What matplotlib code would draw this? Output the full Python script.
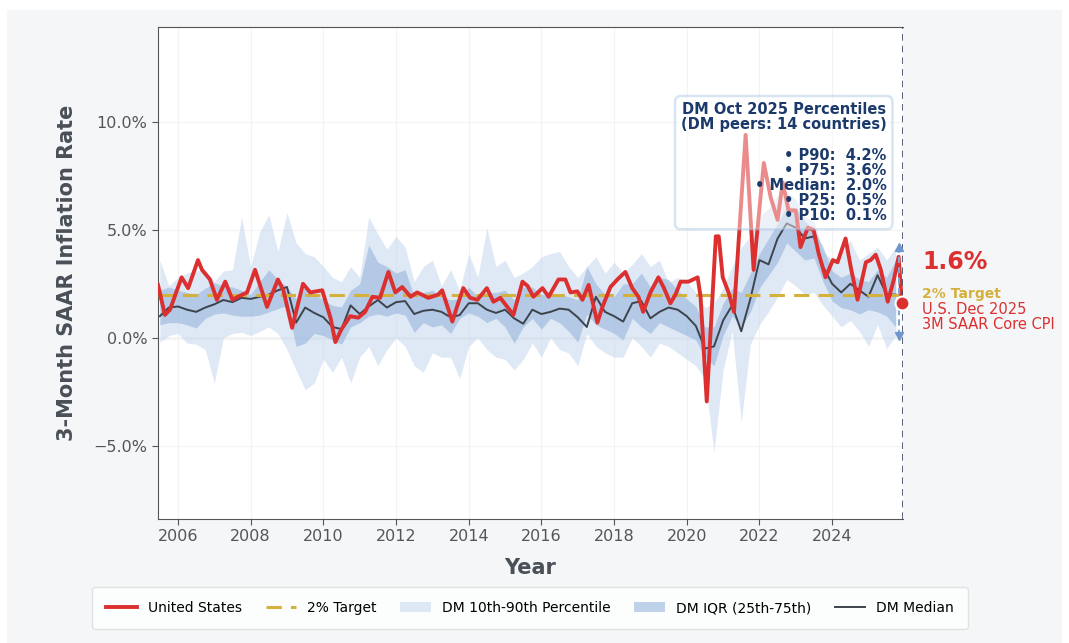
import numpy as np
import matplotlib
matplotlib.use("Agg")
import matplotlib.pyplot as plt
from matplotlib.patches import Rectangle
from matplotlib.ticker import PercentFormatter, FixedLocator

# ---- data ----
us_dates = [2005.45, 2005.64, 2005.78, 2006.10, 2006.28, 2006.55, 2006.66, 2006.88, 2007.07, 2007.30,
            2007.50, 2007.65, 2007.90, 2008.12, 2008.45, 2008.75, 2008.90, 2009.14, 2009.44, 2009.64,
            2009.97, 2010.20, 2010.33, 2010.50, 2010.74, 2010.96, 2011.15, 2011.35, 2011.56, 2011.79,
            2011.98, 2012.17, 2012.40, 2012.58, 2012.89, 2013.16, 2013.27, 2013.55, 2013.69, 2013.85,
            2014.04, 2014.24, 2014.50, 2014.68, 2014.87, 2015.23, 2015.48, 2015.62, 2015.78, 2016.03,
            2016.20, 2016.47, 2016.66, 2016.80, 2016.99, 2017.13, 2017.30, 2017.54, 2017.68, 2017.90,
            2018.09, 2018.31, 2018.50, 2018.67, 2018.80, 2019.00, 2019.22, 2019.36, 2019.55, 2019.69,
            2019.83, 2020.05, 2020.30, 2020.38, 2020.55, 2020.80, 2020.88, 2020.99, 2021.15, 2021.30,
            2021.62, 2021.84, 2022.12, 2022.31, 2022.50, 2022.64, 2022.80, 2023.00, 2023.13, 2023.33,
            2023.49, 2023.63, 2023.82, 2024.02, 2024.15, 2024.37, 2024.51, 2024.70, 2024.93, 2025.06,
            2025.20, 2025.34, 2025.53, 2025.70, 2025.83, 2025.92]
us_values = [2.45, 1.06, 1.3, 2.8, 2.3, 3.6, 3.15, 2.7, 1.76, 2.6,
             1.76, 1.9, 2.1, 3.15, 1.43, 2.7, 2.2, 0.46, 2.5, 2.1,
             2.2, 0.9, -0.2, 0.4, 1.0, 0.93, 1.2, 1.9, 1.85, 3.05,
             2.1, 2.35, 1.9, 2.1, 1.85, 2.0, 2.2, 0.75, 1.5, 2.3,
             1.85, 1.76, 2.3, 1.67, 1.85, 1.06, 2.6, 2.4, 1.9, 2.3,
             1.9, 2.7, 2.7, 2.1, 2.15, 1.76, 2.45, 0.7, 1.43, 2.35,
             2.7, 3.05, 2.3, 1.9, 1.2, 2.1, 2.8, 2.35, 1.6, 2.0,
             2.6, 2.6, 2.8, 1.9, -2.95, 4.7, 4.7, 2.8, 2.1, 1.2,
             9.4, 3.15, 8.1, 6.5, 5.46, 7.2, 5.9, 5.9, 4.2, 5.1,
             5.0, 3.9, 2.8, 3.6, 3.5, 4.6, 3.3, 1.76, 3.5, 3.6,
             3.85, 3.15, 1.67, 2.7, 3.75, 1.6]

# DM peer distribution, quarterly from mid-2005 to Oct 2025
dm_dates = np.arange(2005.5, 2025.76, 0.25)
dm_median = [1.0, 1.4,
             1.45, 1.3, 1.2, 1.4,   1.55, 1.75, 1.65, 1.85,   1.8, 1.9, 2.0, 2.2,   2.35, 0.7, 1.4, 1.15,
             0.95, 0.5, 0.4, 1.5,   1.1, 1.45, 1.75, 1.4,    1.65, 1.7, 1.1, 1.25,  1.3, 1.2, 0.95, 1.05,
             1.6, 1.6, 1.3, 1.15,   1.3, 0.9, 0.65, 1.3,     1.1, 1.2, 1.35, 1.3,   0.95, 0.5, 1.9, 1.2,
             1.0, 0.75, 1.6, 1.7,   0.9, 1.2, 1.4, 1.3,      1.0, 0.55, -0.5, -0.4, 0.8, 1.5, 0.3, 1.8,
             3.6, 3.4, 4.6, 5.3,    5.1, 4.6, 4.7, 3.3,      2.5, 2.1, 2.5, 2.2,    1.9, 2.9, 2.0, 2.0]
dm_p25 = [0.6, 0.7,
          0.7, 0.6, 0.45, 0.9,    1.1, 1.15, 1.05, 1.0,    1.0, 1.05, 1.2, 1.35,   1.5, -0.4, -0.25, 0.2,
          0.1, -0.1, -0.3, 0.5,   0.7, 1.0, 1.1, 1.0,      1.15, 1.05, 0.25, 0.7,  0.5, 0.6, 0.2, 0.9,
          1.15, 1.0, 0.7, 0.9,    0.5, -0.25, 0.5, 0.9,    0.4, 0.9, 0.7, 0.3,     -0.2, 1.1, 0.6, 0.4,
          0.2, -0.1, 0.9, 0.5,    0.2, 0.7, 0.5, 0.3,      0.1, -0.1, -0.9, -1.3,  0.1, 1.0, 0.5, 1.2,
          2.3, 2.9, 3.5, 4.4,     4.0, 3.6, 3.7, 2.6,      1.7, 1.4, 1.3, 1.1,     1.3, 1.2, 1.0, 0.5]
dm_p75 = [2.2, 2.35,
          2.2, 2.1, 2.0, 2.3,     2.55, 2.4, 2.35, 2.2,    2.0, 2.6, 3.15, 2.7,    2.35, 1.8, 2.35, 2.0,
          1.76, 1.5, 1.43, 2.2,   2.5, 4.3, 3.5, 3.3,      3.0, 3.15, 1.9, 2.1,    2.2, 1.9, 1.76, 1.8,
          2.35, 1.9, 2.1, 2.1,    2.2, 1.76, 2.35, 2.35,   2.0, 2.0, 2.0, 1.9,     1.76, 3.3, 2.5, 2.0,
          1.9, 2.5, 2.5, 3.0,     2.35, 2.8, 2.7, 2.2,     1.8, 1.45, 0.5, 0.5,    1.6, 2.3, 2.1, 3.0,
          3.9, 4.6, 5.3, 6.1,     6.0, 5.4, 5.0, 4.2,      3.1, 2.8, 3.0, 2.7,     2.6, 3.15, 2.8, 3.6]
dm_p10 = [-0.2, 0.1,
          0.2, -0.25, -0.3, -0.55,  -2.1, 0.0, 0.2, 0.25,   0.1, 0.3, 0.5, 0.2,     -0.55, -1.5, -2.4, -2.1,
          -1.0, -1.6, -0.9, -2.1,   -0.9, -0.4, -1.3, -0.55, 0.0, -0.4, -1.3, -1.6,  -0.7, -0.9, -0.9, -1.9,
          -0.4, 0.0, -0.55, -0.9,   -1.0, -1.5, -1.0, -0.25, -0.9, 0.0, -0.55, -0.7, -1.3, 0.2, -0.4, -0.7,
          -0.9, -0.9, 0.0, -0.4,    -0.9, -0.25, -0.4, -0.7, -1.0, -1.3, -1.9, -5.3, -1.5, 0.3, -3.9, -0.3,
          0.6, 1.2, 1.9, 2.7,       2.4, 2.0, 2.1, 1.5,      1.0, 0.5, 0.8, 0.3,     -0.4, 0.6, -0.5, 0.1]
dm_p90 = [3.6, 2.4,
          2.8, 3.0, 3.1, 3.15,    2.6, 3.1, 3.15, 5.6,     3.3, 4.9, 5.7, 4.0,     5.8, 4.4, 3.9, 3.75,
          3.3, 2.8, 2.6, 3.3,     2.8, 5.6, 4.8, 4.1,      4.7, 4.2, 2.6, 3.3,     3.6, 2.4, 3.15, 2.2,
          3.9, 2.8, 5.1, 3.3,     3.6, 2.8, 3.0, 3.3,      3.75, 3.9, 4.0, 3.3,    2.8, 3.3, 3.75, 3.0,
          3.5, 3.0, 3.4, 3.9,     3.3, 3.6, 2.55, 2.8,     2.6, 2.1, 1.4, 1.6,     2.3, 3.3, 4.2, 4.7,
          5.6, 6.0, 6.6, 6.8,     6.4, 5.6, 5.4, 4.0,      3.6, 3.9, 4.5, 3.6,     3.9, 4.2, 3.6, 4.2]

target = 2.0
latest_us = 1.6
pct_labels = ["P90", "P75", "Median", "P25", "P10"]
pct_values = [4.2, 3.6, 2.0, 0.5, 0.1]
year_ticks = list(range(2006, 2025, 2))

# ---- styling ----
RED = "#dc2f2f"
GOLD = "#d4b03c"
NAVY = "#1b3a6b"
OUTER = "#c5d7ee"
INNER = "#8fb0db"
MED = "#3d434b"

fig = plt.figure(figsize=(10.69, 6.43), dpi=100, facecolor="white")
fig.patches.append(Rectangle((7 / 1069, 0), 1055 / 1069, 1 - 10 / 643,
                             transform=fig.transFigure, facecolor="#f5f6f8",
                             edgecolor="none", zorder=-10))

ax = fig.add_axes([0.1478, 0.1928, 0.6969, 0.7652])
ax.set_facecolor("white")

ax.fill_between(dm_dates, dm_p10, dm_p90, color=OUTER, alpha=0.55, lw=0,
                label="DM 10th-90th Percentile", zorder=1)
ax.fill_between(dm_dates, dm_p25, dm_p75, color=INNER, alpha=0.55, lw=0,
                label="DM IQR (25th-75th)", zorder=2)
ax.plot(dm_dates, dm_median, color=MED, lw=1.4, label="DM Median", zorder=3)
ax.axhline(0, color="#c4c4c4", lw=1, zorder=0.5)
ax.axhline(target, color=GOLD, lw=2.2, ls=(0, (5, 3)), label="2% Target", zorder=4)
ax.plot(us_dates, us_values, color=RED, lw=2.8, label="United States", zorder=5)

# end markers
end_x = us_dates[-1]
ax.axvline(end_x + 0.03, color="#3c4660", lw=1.2, ls=(0, (4, 3)), zorder=6)
ax.plot([dm_dates[-1] + 0.1] * 2, [pct_values[-1], pct_values[0]], color="#7fa6d6",
        lw=1.5, ls=(0, (3, 2)), zorder=6)
ax.plot([dm_dates[-1] + 0.1], [pct_values[0]], marker="^", color="#6f97cc", ms=6, zorder=6)
ax.plot([dm_dates[-1] + 0.1], [pct_values[-1]], marker="v", color="#6f97cc", ms=6, zorder=6)
ax.plot([end_x], [latest_us], marker="o", ms=10, color=RED, mec="white", mew=1.5,
        zorder=7, clip_on=False)

ax.set_xlim(2005.45, end_x + 0.03)
ax.set_ylim(-8.4, 14.4)
ax.xaxis.set_major_locator(FixedLocator(year_ticks))
ax.yaxis.set_major_locator(FixedLocator([-5, 0, 5, 10]))
ax.yaxis.set_major_formatter(PercentFormatter(decimals=1))
ax.tick_params(labelsize=11.5, colors="#555555", length=4)
ax.grid(True, color="#f3f3f3", lw=0.8, zorder=0)
ax.set_axisbelow(True)
for s in ["left", "bottom", "top"]:
    ax.spines[s].set_color("#555555")
ax.spines["right"].set_visible(False)

ax.set_ylabel("3-Month SAAR Inflation Rate", fontsize=15, fontweight="bold",
              color="#4a5058", labelpad=12)
ax.set_xlabel("Year", fontsize=15, fontweight="bold", color="#4a5058", labelpad=10)

# percentile box
lines = ["DM Oct 2025 Percentiles", "(DM peers: 14 countries)", ""]
lines += [f"• {n}:  {v:.1f}%" for n, v in zip(pct_labels, pct_values)]
ax.text(0.978, 0.848, "\n".join(lines), transform=ax.transAxes, ha="right", va="top",
        multialignment="right", fontsize=10.5, fontweight="bold", color=NAVY,
        linespacing=1.02, zorder=8,
        bbox=dict(boxstyle="round,pad=0.4", facecolor="white", alpha=0.45,
                  edgecolor="#a8c4e0", lw=1.8))

# right-side labels
fig.text(922 / 1069, 1 - 262 / 643, f"{latest_us:.1f}%", color=RED, fontsize=17,
         fontweight="bold", va="center", ha="left")
fig.text(922 / 1069, 1 - 294 / 643, "2% Target", color=GOLD, fontsize=10,
         fontweight="bold", va="center", ha="left")
fig.text(922 / 1069, 1 - 317 / 643, "U.S. Dec 2025\n3M SAAR Core CPI", color=RED,
         fontsize=10.5, va="center", ha="left", linespacing=1.0)

# legend
handles, labels = ax.get_legend_handles_labels()
order = ["United States", "2% Target", "DM 10th-90th Percentile", "DM IQR (25th-75th)", "DM Median"]
hmap = dict(zip(labels, handles))
leg = fig.legend([hmap[k] for k in order], order, loc="center",
                 bbox_to_anchor=(0.496, 0.0544), ncol=5, fontsize=10,
                 frameon=True, fancybox=True, columnspacing=1.7, handlelength=2.2,
                 borderpad=1.0)
leg.get_frame().set_facecolor("white")
leg.get_frame().set_edgecolor("#dddddd")

fig.savefig("out.png", dpi=100, facecolor=fig.get_facecolor())
